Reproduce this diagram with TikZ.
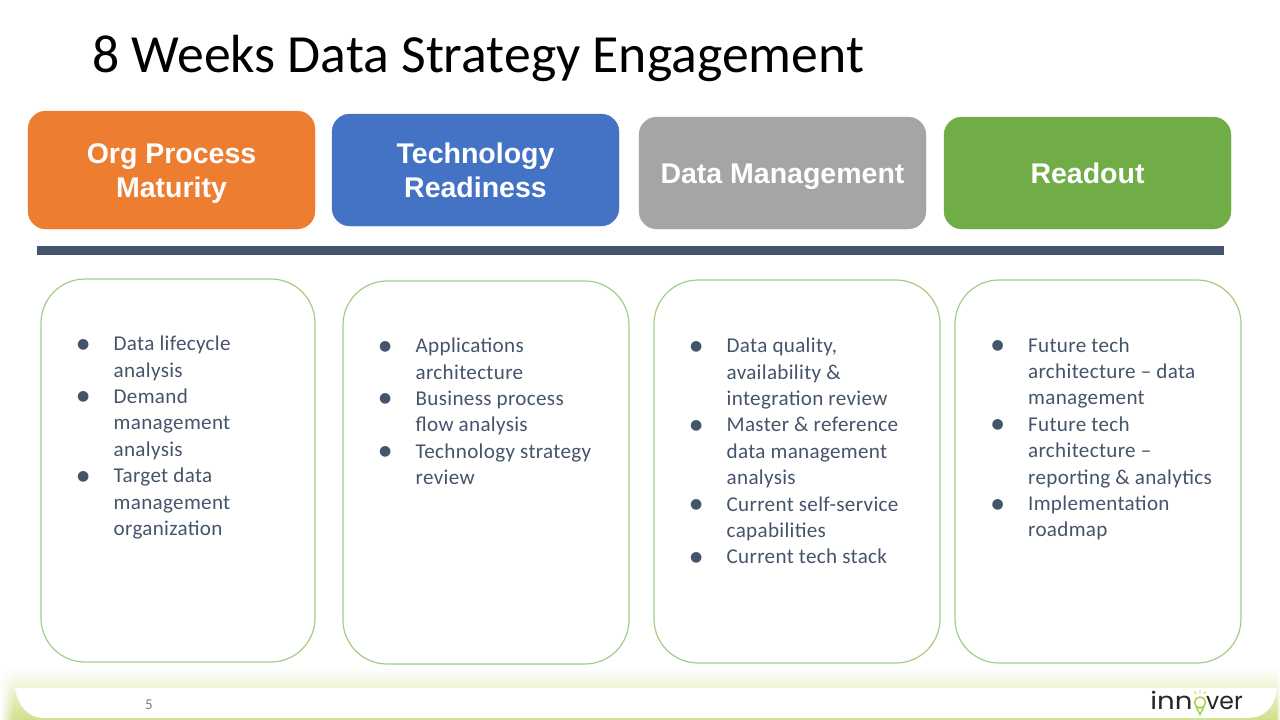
\documentclass[tikz,border=0pt]{standalone}
\usepackage{fontspec}
\usepackage{xcolor}
\setmainfont{Carlito}
\newfontfamily\bodyfont[LetterSpace=1.5]{Carlito}
\newfontfamily\headfont{Liberation Sans}
\newfontfamily\markfont{DejaVu Sans}
\newfontfamily\logofont{Poppins}
\usetikzlibrary{positioning, fadings}
\definecolor{orangeBox}{HTML}{ED7D31}
\definecolor{blueBox}{HTML}{4472C4}
\definecolor{grayBox}{HTML}{A5A5A5}
\definecolor{greenBox}{HTML}{70AD47}
\definecolor{slateLine}{HTML}{44546A}
\definecolor{paleGreen}{HTML}{A3CC86}
\definecolor{glowGreen}{HTML}{CFE08A}
\definecolor{bulbGreen}{HTML}{A6D43C}
\newcommand{\bmark}{{\markfont\fontsize{14}{14}\selectfont\raisebox{2.5pt}{●}}}
\newcommand{\listrows}[1]{{\begin{tabular}{@{}p{36.5pt}@{}l@{}}#1\end{tabular}}}
\begin{document}
\begin{tikzpicture}[
    x=1pt, y=-1pt,
    headbox/.style={rounded corners=18pt, text=white, align=center, font=\headfont\bfseries\fontsize{28.5}{34}\selectfont},
    listbox/.style={draw=paleGreen, line width=1.2pt, rounded corners=44pt},
    listtext/.style={anchor=north west, inner sep=0pt, text=slateLine, font=\bodyfont\fontsize{21.1}{26.4}\selectfont},
    logotext/.style={anchor=base, inner sep=0pt, text=black!85, font=\logofont\fontsize{24}{26}\selectfont, transform shape}
  ]
    \useasboundingbox (0,0) rectangle (1280,720);

    % title
    \node[anchor=west, inner sep=0pt, font=\fontsize{53.7}{60}\selectfont] (titleText) at (92,58) {8 Weeks Data Strategy Engagement};

    % header boxes
    \filldraw[headbox, fill=orangeBox, draw=orangeBox] (28,111) rectangle (315,229);
    \node[headbox] (orgHead) at (171.5,174) {Org Process\\Maturity};
    \filldraw[headbox, fill=blueBox, draw=blueBox] (332,114) rectangle (619,226);
    \node[headbox] (techHead) at (475.5,170) {Technology\\Readiness};
    \filldraw[headbox, fill=grayBox, draw=grayBox] (639,117) rectangle (926,229);
    \node[headbox] (dataHead) at (782.5,176.5) {Data Management};
    \filldraw[headbox, fill=greenBox, draw=greenBox] (944,117) rectangle (1231,229);
    \node[headbox] (readHead) at (1087.5,173) {Readout};

    \fill[slateLine] (37,245.5) rectangle (1224,255);

    % list boxes
    \draw[listbox] (41,279) rectangle (315,662);
    \draw[listbox] (343,281) rectangle (629,664);
    \draw[listbox] (654,280) rectangle (940,663);
    \draw[listbox] (955,280) rectangle (1241,663);

    \node[listtext] (orgList) at (77,332) {\listrows{
      \bmark & Data lifecycle\\ & analysis\\
      \bmark & Demand\\ & management\\ & analysis\\
      \bmark & Target data\\ & management\\ & organization}};
    \node[listtext] (techList) at (379,334) {\listrows{
      \bmark & Applications\\ & architecture\\
      \bmark & Business process\\ & flow analysis\\
      \bmark & Technology strategy\\ & review}};
    \node[listtext] (dataList) at (690,334) {\listrows{
      \bmark & Data quality,\\ & availability \&\\ & integration review\\
      \bmark & Master \& reference\\ & data management\\ & analysis\\
      \bmark & Current self-service\\ & capabilities\\
      \bmark & Current tech stack}};
    \node[listtext] (readList) at (991.5,333.5) {\listrows{
      \bmark & Future tech\\ & architecture – data\\ & management\\
      \bmark & Future tech\\ & architecture –\\ & reporting \& analytics\\
      \bmark & Implementation\\ & roadmap}};

    % footer
    \shade[top color=white, bottom color=glowGreen] (0,668) rectangle (1280,720);
    \fill[white, path fading=east] (0,668) rectangle (14,720);
    \fill[white, path fading=west] (1276,668) rectangle (1280,720);
    \fill[white] (15,688) -- (1277,688) .. controls (1275,706) and (1266,718) .. (1246,718) -- (44,718) .. controls (28,718) and (18,706) .. (15,688) -- cycle;
    \node[inner sep=0pt, text=gray, font=\fontsize{15}{16}\selectfont] (pageNum) at (149,705) {5};

    % logo
    \node[logotext, xscale=1.15] (logoLeft) at (1171.5,709) {inn};
    \node[logotext, xscale=0.98] (logoRight) at (1224.5,709) {ver};
    \draw[bulbGreen, line width=1.5pt] (1200,702.5) circle[radius=5.5];
    \draw[bulbGreen, line width=1.5pt] (1195.8,706) -- (1200,714.5) -- (1204.2,706);
    \draw[bulbGreen, line width=0.8pt] (1200,690) -- (1200,693.5) (1194.5,691.5) -- (1196,694) (1205.5,691.5) -- (1204,694);
\end{tikzpicture}
\end{document}
